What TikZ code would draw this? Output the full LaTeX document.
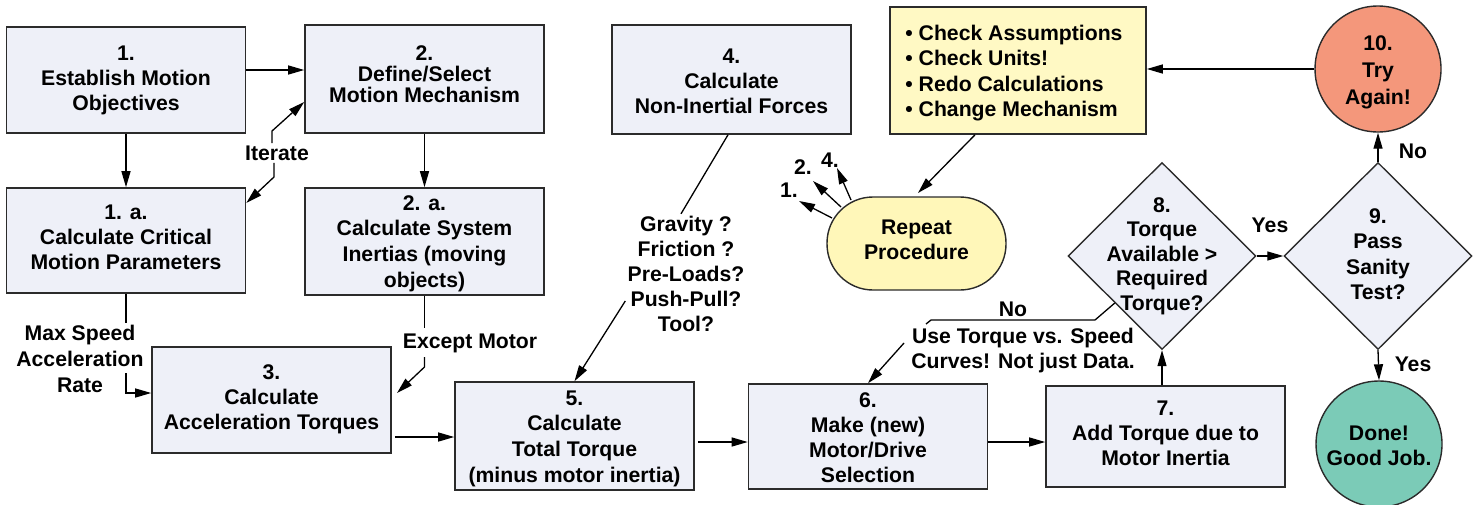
\documentclass[tikz,border=0pt]{standalone}
\usepackage{fontspec}
\setmainfont{Liberation Sans}
\usetikzlibrary{arrows.meta,shapes.geometric}
\definecolor{boxfill}{HTML}{EEF0F8}
\definecolor{yelfill}{HTML}{FFF9C4}
\definecolor{repfill}{HTML}{FFF7B9}
\definecolor{tryfill}{HTML}{F4977B}
\definecolor{donefill}{HTML}{7BCBB7}
\definecolor{edgecol}{HTML}{2B2B2B}
\newcommand\tf[1]{\fontsize{10.6}{#1}\selectfont\bfseries}
\begin{document}
\begin{tikzpicture}[x=0.5pt,y=-0.5pt,
  every node/.style={font=\tf{12.5}, inner sep=1pt},
  box/.style={draw=edgecol, line width=0.8pt, fill=boxfill, inner sep=0pt, minimum width=119.5pt},
  txt/.style={align=center},
  arr/.style={-{Triangle[length=8pt,width=4.5pt]}, line width=0.65pt},
  ln/.style={line width=0.65pt},
  dia/.style={diamond, draw=edgecol, line width=0.7pt, fill=boxfill, inner sep=0pt, minimum width=94pt, minimum height=93.5pt},
  circ/.style={circle, draw=edgecol, line width=0.7pt, inner sep=0pt, minimum size=63pt},
]
\useasboundingbox (0,0) rectangle (1475,504);

% boxes
\node[box, minimum height=53pt] (b1) at (126,80) {};
\node[box, minimum height=54pt] (b2) at (424.5,79) {};
\node[box, minimum height=52.5pt] (b1a) at (126,240.5) {};
\node[box, minimum height=53.5pt] (b2a) at (424.5,241.5) {};
\node[box, minimum height=53pt] (b3) at (271.5,400) {};
\node[box, minimum height=54.5pt] (b4) at (731.5,79.5) {};
\node[box, minimum height=54pt] (b5) at (574.5,436) {};
\node[box, minimum height=52.5pt] (b6) at (868,436.5) {};
\node[box, minimum height=50.5pt] (b7) at (1165.5,436.5) {};
\node[draw=edgecol, line width=0.8pt, fill=yelfill, inner sep=0pt, minimum width=128pt, minimum height=63.5pt] (yb) at (1018,70.5) {};
\node[draw=edgecol, line width=0.7pt, fill=repfill, inner sep=0pt, minimum width=89.5pt, minimum height=46.5pt, rounded corners=23pt] (rep) at (916.5,243.5) {};
\node[circ, fill=tryfill] (c10) at (1378,69) {};
\node[circ, fill=donefill] (done) at (1379,444) {};
\node[dia] (d8) at (1162,256) {};
\node[dia] (d9) at (1378,256) {};

% texts
\node[txt] (t1) at (126,80) {1.\\Establish Motion\\Objectives};
\node[txt, font=\tf{10.5}] (t2) at (424.5,74) {2.\\Define/Select\\Motion Mechanism};
\node[txt] (t1a) at (126,237) {1. a.\\Calculate Critical\\Motion Parameters};
\node[txt, font=\tf{12.8}] (t2a) at (424.5,243.5) {2. a.\\Calculate System\\Inertias (moving\\objects)};
\node[txt] (t3) at (271.5,399.5) {3.\\Calculate\\Acceleration Torques};
\node[txt] (t4) at (731.5,81) {4.\\Calculate\\Non-Inertial Forces};
\node[txt, font=\tf{12.8}] (t5) at (574.5,438.5) {5.\\Calculate\\Total Torque\\(minus motor inertia)};
\node[txt] (t6) at (868,437.5) {6.\\Make (new)\\Motor/Drive\\Selection};
\node[txt] (t7) at (1165.5,433) {7.\\Add Torque due to\\Motor Inertia};
\node[align=left, anchor=west, font=\tf{12.75}] (ybt) at (903,73) {• Check Assumptions\\• Check Units!\\• Redo Calculations\\• Change Mechanism};
\node[txt] (trep) at (916.5,239.5) {Repeat\\Procedure};
\node[txt, font=\tf{13.5}] (t10) at (1378,72) {10.\\Try\\Again!};
\node[txt] (tdone) at (1379,445.5) {Done!\\Good Job.};
\node[txt, font=\tf{12.3}] (t8) at (1162,256) {8.\\Torque\\Available >\\Required\\Torque?};
\node[txt, font=\tf{12.7}] (t9) at (1378,254) {9.\\Pass\\Sanity\\Test?};

% labels
\node (iter) at (277,153) {Iterate};
\node[txt, font=\tf{13}] (ms) at (80,359) {Max Speed\\Acceleration\\Rate};
\node (em) at (470,343) {Except Motor};
\node[txt] (grav) at (686,274) {Gravity ?\\Friction ?\\Pre-Loads?\\Push-Pull?\\Tool?};
\node (no1) at (1013,309) {No};
\node[txt] (use) at (1023,351) {Use Torque vs. Speed\\Curves! Not just Data.};
\node (yes1) at (1270,225) {Yes};
\node (no2) at (1413,151) {No};
\node (yes2) at (1413,364) {Yes};
\node (l1) at (789,190) {1.};
\node (l2) at (803,167) {2.};
\node (l4) at (830,160) {4.};

% coordinates
\coordinate (ms1) at (126,323);
\coordinate (ms2) at (126,373);
\coordinate (em1) at (424.5,328);
\coordinate (em2) at (424.5,357);
\coordinate (emt) at (397,393);
\coordinate (ua) at (904,343);
\coordinate (rt) at (918,193);
\coordinate (r1s) at (832,218);
\coordinate (r1e) at (799,201);
\coordinate (r2s) at (841,207);
\coordinate (r2e) at (813,181);
\coordinate (r4s) at (851,200);
\coordinate (r4e) at (837,168);

% connectors
\draw[arr] (b1.east |- 0,70) -- (b2.west |- 0,70);
\draw[arr] (b1) -- (b1a);
\draw[arr] (b2) -- (b2a);
\draw[arr] (iter.north -| 272,0) -- (272,131) -- (b2.west |- 0,102);
\draw[arr] (iter.south -| 274,0) -- (274,177) -- (b1a.east |- 0,203);
\draw[ln] (b1a) -- (ms1);
\draw[arr] (ms2) -- (126,393) -- (b3.west |- 0,393);
\draw[ln] (b2a) -- (em1);
\draw[arr] (em2) -- (424.5,367) -- (emt);
\draw[arr, shorten <=1.5pt] (b3.east |- 0,437) -- (b5.west |- 0,437);
\draw[ln] (b4.south -| 728,0) -- (grav.north -| 681,0);
\draw[arr] (grav.west |- 0,301) -- (b5.north);
\draw[arr, shorten <=1.5pt] (b5.east |- 0,442) -- (b6.west |- 0,442);
\draw[arr] (b6.east |- 0,442) -- (b7.west |- 0,442);
\draw[arr] (d8.south |- b7.north) -- (d8.south);
\draw[ln] (d8.south west) -- (1095,320) -- (931,320) -- (926,324);
\draw[arr] (ua) -- (b6.north);
\draw[arr] (d8.east) -- (d9.west);
\draw[arr] (d9.north) -- (c10.south);
\draw[arr] (d9.south) -- (done.north);
\draw[arr] (c10.west) -- (yb.east |- c10.west);
\draw[arr] (yb.south -| 975,0) -- (rt);
\draw[arr] (r1s) -- (r1e);
\draw[arr] (r2s) -- (r2e);
\draw[arr] (r4s) -- (r4e);
\end{tikzpicture}
\end{document}
